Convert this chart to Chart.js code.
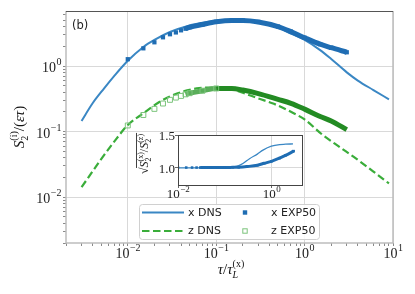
<!DOCTYPE html>
<html>
<head>
<meta charset="utf-8">
<script src="https://cdn.jsdelivr.net/npm/chart.js@4.4.0/dist/chart.umd.min.js"></script>
<style>
body { margin: 0; background: #fff; }
#wrap { position: relative; width: 415px; height: 294px; }
#main { position: absolute; left: 0; top: 0; }
#inset { position: absolute; left: 128px; top: 120px; }
</style>
</head>
<body>
<div id="wrap">
<canvas id="main" width="415" height="294"></canvas>
<canvas id="inset" width="182" height="88"></canvas>
</div>
<script>
// panel (b): S2^(i)/(eps tau) against tau/tau_L
const xDnsTau = [0.003, 0.004, 0.0054, 0.007, 0.01, 0.015, 0.02, 0.03, 0.05, 0.07, 0.1, 0.15, 0.2, 0.3, 0.5, 0.7, 1.0, 1.5, 2.0, 3.0, 4.0, 6.0, 9.0];
const xDns = [0.145, 0.27, 0.456, 0.7, 1.2, 1.95, 2.5, 3.3, 4.15, 4.55, 4.86, 5.02, 4.98, 4.62, 3.85, 3.12, 2.5, 1.75, 1.28, 0.8, 0.6, 0.43, 0.31];
const zDnsTau = [0.003, 0.005, 0.0075, 0.01, 0.015, 0.023, 0.036, 0.06, 0.1, 0.15, 0.2, 0.3, 0.45, 0.7, 1.0, 1.6, 2.5, 3.8, 5.9, 9.0];
const zDns = [0.0142, 0.038, 0.079, 0.126, 0.19, 0.285, 0.38, 0.455, 0.47, 0.44, 0.39, 0.32, 0.265, 0.2, 0.153, 0.089, 0.058, 0.039, 0.025, 0.0162];
const expTau = [0.01, 0.015, 0.02, 0.025, 0.03, 0.035, 0.04, 0.045, 0.05, 0.07, 0.1, 0.15, 0.2, 0.3, 0.5, 0.7, 1.0, 1.5, 2.0, 3.0];
const xExp = [1.27, 1.86, 2.3, 2.74, 3.05, 3.25, 3.5, 3.7, 3.9, 4.3, 4.72, 4.95, 4.95, 4.7, 4.0, 3.35, 2.7, 2.15, 1.9, 1.62];
const zExp = [0.124, 0.179, 0.222, 0.268, 0.305, 0.33, 0.35, 0.37, 0.385, 0.42, 0.455, 0.455, 0.43, 0.38, 0.31, 0.27, 0.22, 0.17, 0.145, 0.107];

// inset: sqrt of the x/z ratio
const insetDnsTau = [0.01, 0.03, 0.1, 0.15, 0.2, 0.25, 0.34, 0.5, 0.66, 1.0, 1.5, 2.0, 2.9];
const insetDns = [1.0, 1.0, 1.005, 1.015, 1.035, 1.07, 1.14, 1.21, 1.27, 1.33, 1.355, 1.36, 1.365];
const insetExp = [1.005, 1.005, 1.005, 1.005, 1.005, 1.005, 1.005, 1.005, 1.005, 1.005, 1.005, 1.008, 1.01, 1.02, 1.04, 1.07, 1.1, 1.15, 1.19, 1.255];

const xTickVals = [0.01, 0.1, 1, 10];
const yTickVals = [0.01, 0.1, 1];
const insetXTicks = [0.01, 1];
const insetYTicks = [1.0, 1.5];

const bandFrom = 0.045;   // EXP points after this merge into a solid band
const blueDns = '#3a87c4', blueExp = '#1f6db3';
const greenDns = '#3aad3a', greenExp = '#238b23', greenOpen = '#7cc47c', greenMid = '#5aae5a';
const serif = '"Liberation Serif", "DejaVu Serif", serif';
const sans = '"DejaVu Sans", sans-serif';

function pts(xs, ys) { return xs.map((x, i) => ({ x: x, y: ys[i] })); }
function isDecade(v) { const l = Math.log10(v); return Math.abs(l - Math.round(l)) < 1e-6; }
function isNice(v) {
  const e = Math.floor(Math.log10(v) + 1e-9);
  const m = v / Math.pow(10, e);
  return Math.abs(m - Math.round(m)) < 1e-6;
}

function drawPow(ctx, v, x, y, align, big, small, rise) {
  const p = Math.round(Math.log10(v));
  const e = p < 0 ? '\u2212' + (-p) : String(p);
  ctx.font = big + 'px ' + serif;
  const w1 = ctx.measureText('10').width;
  ctx.font = small + 'px ' + serif;
  const w2 = ctx.measureText(e).width;
  const x0 = align === 'center' ? x - (w1 + w2) / 2 : x - w1 - w2;
  ctx.textAlign = 'left';
  ctx.textBaseline = 'alphabetic';
  ctx.font = big + 'px ' + serif;
  ctx.fillText('10', x0, y);
  ctx.font = small + 'px ' + serif;
  ctx.fillText(e, x0 + w1 + 0.5, y - rise);
}

// runs: [text, size, italic, dy, stackOnPrevious]
function drawRuns(ctx, runs, cx, cy, rot, sqrtFrom) {
  ctx.save();
  ctx.translate(cx, cy);
  if (rot) ctx.rotate(rot);
  const fontOf = r => (r[2] ? 'italic ' : '') + r[1] + 'px ' + serif;
  let x = 0, start = 0;
  const pos = [];
  runs.forEach(r => {
    ctx.font = fontOf(r);
    const w = ctx.measureText(r[0]).width;
    const x0 = r[4] ? start : x;
    pos.push(x0);
    if (!r[4]) start = x0;
    x = Math.max(x, x0 + w);
  });
  const off = -x / 2;
  ctx.fillStyle = '#111';
  ctx.textAlign = 'left';
  ctx.textBaseline = 'alphabetic';
  runs.forEach((r, i) => {
    ctx.font = fontOf(r);
    ctx.fillText(r[0], off + pos[i], r[3]);
  });
  if (sqrtFrom !== undefined) {
    ctx.strokeStyle = '#111';
    ctx.lineWidth = 0.8;
    ctx.beginPath();
    ctx.moveTo(off + pos[sqrtFrom] - 0.5, -11.5);
    ctx.lineTo(off + x + 1, -11.5);
    ctx.stroke();
  }
  ctx.restore();
}

const mainDecor = {
  id: 'mainDecor',
  afterDatasetsDraw(chart) {
    const { ctx, chartArea: a } = chart;
    ctx.save();
    ctx.lineWidth = 1.5;
    ctx.strokeStyle = '#bdbdbd';
    ctx.beginPath();
    ctx.moveTo(a.left, a.top); ctx.lineTo(a.left, a.bottom);
    ctx.lineTo(a.right, a.bottom); ctx.lineTo(a.right, a.top);
    ctx.stroke();
    ctx.lineWidth = 1;
    ctx.strokeStyle = '#555';
    ctx.beginPath();
    ctx.moveTo(a.left, a.top + 0.5); ctx.lineTo(a.right, a.top + 0.5);
    ctx.stroke();
    ctx.restore();
  },
  afterDraw(chart) {
    const { ctx } = chart;
    const sx = chart.scales.x, sy = chart.scales.y;
    ctx.save();
    ctx.fillStyle = '#222';
    xTickVals.forEach(v => drawPow(ctx, v, sx.getPixelForValue(v), 258, 'center', 14, 10, 7));
    yTickVals.forEach(v => drawPow(ctx, v, 61, sy.getPixelForValue(v) + 6, 'right', 14, 10, 7));

    drawRuns(ctx, [['S', 15, true, 0], ['2', 10, false, 3.5], ['(i)', 10, false, -7, true],
      ['/(', 15, false, 0], ['\u03b5\u03c4', 15, true, 0], [')', 15, false, 0]], 24, 127, -Math.PI / 2);
    drawRuns(ctx, [['\u03c4', 15, true, 0], ['/', 15, false, 0], ['\u03c4', 15, true, 0],
      ['L', 10, true, 4], ['(x)', 10, false, -7, true]], 231, 274, 0);

    ctx.fillStyle = '#222';
    ctx.font = '11.5px ' + sans;
    ctx.textAlign = 'left';
    ctx.textBaseline = 'alphabetic';
    ctx.fillText('(b)', 72, 29);

    // legend box inside the axes
    const bx = 139.5, by = 204.5, bw = 180, bh = 35;
    ctx.fillStyle = 'rgba(255,255,255,0.85)';
    ctx.strokeStyle = '#d0d0d0';
    ctx.lineWidth = 1;
    ctx.beginPath();
    ctx.roundRect(bx, by, bw, bh, 3);
    ctx.fill();
    ctx.stroke();
    const ds = chart.data.datasets;
    const rows = [212.5, 231];
    ctx.font = '11px ' + sans;
    ctx.textBaseline = 'middle';
    [0, 1].forEach(i => {
      const d = ds[i];
      ctx.strokeStyle = d.borderColor;
      ctx.lineWidth = d.borderWidth;
      ctx.setLineDash(d.borderDash || []);
      ctx.beginPath();
      ctx.moveTo(142, rows[i]); ctx.lineTo(184, rows[i]);
      ctx.stroke();
      ctx.setLineDash([]);
      ctx.fillStyle = '#222';
      ctx.fillText(d.label, 188, rows[i] + 0.5);
    });
    [2, 3].forEach((i, k) => {
      const d = ds[i];
      const s = 4.4;
      if (d.pointBackgroundColor === 'transparent') {
        ctx.strokeStyle = d.pointBorderColor;
        ctx.lineWidth = 1;
        ctx.strokeRect(245 - s / 2, rows[k] - s / 2, s, s);
      } else {
        ctx.fillStyle = d.pointBackgroundColor;
        ctx.fillRect(245 - s / 2, rows[k] - s / 2, s, s);
      }
      ctx.fillStyle = '#222';
      ctx.fillText(d.label, 271, rows[k] + 0.5);
    });
    ctx.restore();
  }
};

const logGrid = {
  color: c => (c.tick && isDecade(c.tick.value)) ? '#d9d9d9' : 'rgba(0,0,0,0)',
  tickColor: c => (c.tick && isNice(c.tick.value)) ? '#8a8a8a' : 'rgba(0,0,0,0)',
  tickLength: 3,
  lineWidth: 1
};

new Chart(document.getElementById('main'), {
  type: 'line',
  data: {
    datasets: [
      {
        label: 'x DNS', data: pts(xDnsTau, xDns),
        borderColor: blueDns, borderWidth: 2, pointRadius: 0,
        cubicInterpolationMode: 'monotone', order: 2
      },
      {
        label: 'z DNS', data: pts(zDnsTau, zDns),
        borderColor: greenDns, borderWidth: 2.2, borderDash: [7.5, 3.5], pointRadius: 0,
        cubicInterpolationMode: 'monotone', order: 2
      },
      {
        label: 'x EXP50', data: pts(expTau, xExp),
        borderColor: blueExp, borderWidth: 5, cubicInterpolationMode: 'monotone',
        segment: { borderColor: c => expTau[c.p0DataIndex] >= bandFrom ? blueExp : 'transparent' },
        pointStyle: 'rect', pointRadius: 3, pointBorderWidth: 0,
        pointBackgroundColor: blueExp, pointBorderColor: blueExp, order: 1
      },
      {
        label: 'z EXP50', data: pts(expTau, zExp),
        borderColor: greenExp, borderWidth: 5, cubicInterpolationMode: 'monotone',
        segment: {
          borderColor: c => {
            const t = expTau[c.p0DataIndex];
            if (t < bandFrom) return 'transparent';
            return t < 0.1 ? greenMid : greenExp;
          }
        },
        pointStyle: 'rect',
        pointRadius: c => expTau[c.dataIndex] > 0.1 ? 0 : 3.5,
        pointBorderWidth: 1,
        pointBackgroundColor: 'transparent', pointBorderColor: greenOpen, order: 1
      }
    ]
  },
  options: {
    responsive: false,
    animation: false,
    events: [],
    layout: { padding: { top: 11, right: 22, left: 0, bottom: 0 } },
    plugins: { legend: { display: false }, tooltip: { enabled: false } },
    scales: {
      x: {
        type: 'logarithmic', min: 0.002, max: 10,
        afterFit: s => { s.height = 51; },
        ticks: { display: false },
        border: { display: false },
        grid: logGrid
      },
      y: {
        type: 'logarithmic', min: 0.002, max: 6.9,
        afterFit: s => { s.width = 66; },
        ticks: { display: false },
        border: { display: false },
        grid: logGrid
      }
    }
  },
  plugins: [mainDecor]
});

const insetDecor = {
  id: 'insetDecor',
  beforeDraw(chart) {
    const { ctx, chartArea: a } = chart;
    ctx.save();
    ctx.fillStyle = '#fff';
    ctx.fillRect(a.left, a.top, a.right - a.left, a.bottom - a.top);
    ctx.restore();
  },
  afterDatasetsDraw(chart) {
    const { ctx, chartArea: a } = chart;
    ctx.save();
    ctx.strokeStyle = '#444';
    ctx.lineWidth = 1;
    ctx.strokeRect(a.left + 0.5, a.top + 0.5, a.right - a.left - 1, a.bottom - a.top);
    ctx.restore();
  },
  afterDraw(chart) {
    const { ctx } = chart;
    const sx = chart.scales.x, sy = chart.scales.y;
    ctx.save();
    ctx.fillStyle = '#222';
    insetXTicks.forEach(v => drawPow(ctx, v, sx.getPixelForValue(v), 78, 'center', 13, 9, 6));
    ctx.font = '13px ' + serif;
    ctx.textAlign = 'right';
    ctx.textBaseline = 'alphabetic';
    insetYTicks.forEach(v => ctx.fillText(v.toFixed(1), 47, sy.getPixelForValue(v) + 5));
    drawRuns(ctx, [['\u221a', 12, false, 0], ['S', 12, true, 0], ['2', 8, false, 3], ['(x)', 8, false, -5, true],
      ['/', 12, false, 0], ['S', 12, true, 0], ['2', 8, false, 3], ['(z)', 8, false, -5, true]],
      20, 34, -Math.PI / 2, 1);
    ctx.restore();
  }
};

new Chart(document.getElementById('inset'), {
  type: 'line',
  data: {
    datasets: [
      {
        label: 'DNS', data: pts(insetDnsTau, insetDns),
        borderColor: blueDns, borderWidth: 1.3, pointRadius: 0,
        cubicInterpolationMode: 'monotone', order: 2
      },
      {
        label: 'EXP50', data: pts(expTau, insetExp),
        borderColor: blueExp, borderWidth: 3, cubicInterpolationMode: 'monotone',
        segment: { borderColor: c => expTau[c.p0DataIndex] >= 0.03 ? blueExp : 'transparent' },
        pointStyle: 'rect', pointRadius: 1.8, pointBorderWidth: 0,
        pointBackgroundColor: blueExp, order: 1
      }
    ]
  },
  options: {
    responsive: false,
    animation: false,
    events: [],
    layout: { padding: { top: 15, right: 7, left: 0, bottom: 0 } },
    plugins: { legend: { display: false }, tooltip: { enabled: false } },
    scales: {
      x: {
        type: 'logarithmic', min: 0.01, max: 4.75,
        afterFit: s => { s.height = 23; },
        afterBuildTicks: s => { s.ticks = insetXTicks.map(v => ({ value: v })); },
        ticks: { display: false },
        border: { display: false },
        grid: { color: c => (c.tick && c.tick.value === 1) ? '#d9d9d9' : 'rgba(0,0,0,0)', tickColor: '#666', tickLength: 3 }
      },
      y: {
        type: 'linear', min: 0.74, max: 1.5,
        afterFit: s => { s.width = 50; },
        afterBuildTicks: s => { s.ticks = insetYTicks.map(v => ({ value: v })); },
        ticks: { display: false },
        border: { display: false },
        grid: { color: c => (c.tick && c.tick.value === 1) ? '#d9d9d9' : 'rgba(0,0,0,0)', tickColor: '#666', tickLength: 3 }
      }
    }
  },
  plugins: [insetDecor]
});
</script>
</body>
</html>
